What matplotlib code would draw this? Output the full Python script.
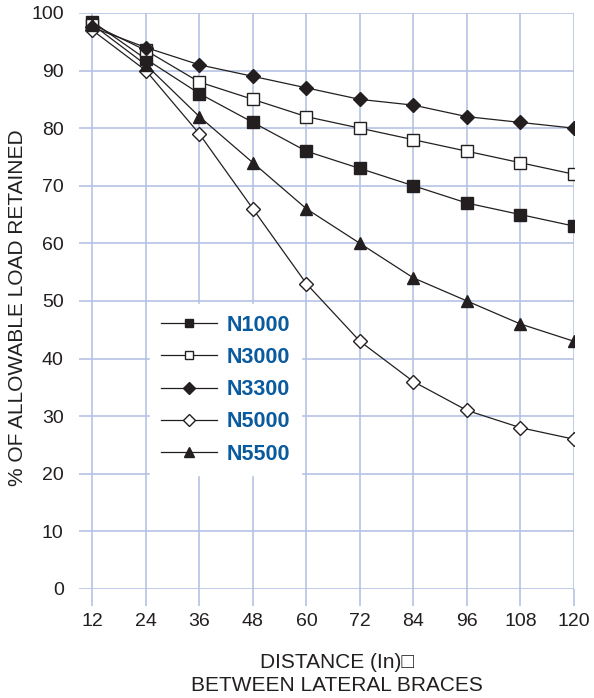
import numpy as np
import matplotlib
matplotlib.use("Agg")
import matplotlib.pyplot as plt

plt.rcParams["font.family"] = ["Liberation Sans Narrow", "Liberation Sans", "DejaVu Sans"]

distance = [12, 24, 36, 48, 60, 72, 84, 96, 108, 120]
n1000 = [98.5, 92, 86, 81, 76, 73, 70, 67, 65, 63]
n3000 = [98, 93.5, 88, 85, 82, 80, 78, 76, 74, 72]
n3300 = [97.5, 94, 91, 89, 87, 85, 84, 82, 81, 80]
n5000 = [97, 90, 79, 66, 53, 43, 36, 31, 28, 26]
n5500 = [98, 91, 82, 74, 66, 60, 54, 50, 46, 43]
y_ticks = [0, 10, 20, 30, 40, 50, 60, 70, 80, 90, 100]

GRID = "#b4c2e4"
INK = "#231f20"
BLUE = "#0a5a9e"

series = [
    ("N1000", n1000, "s", INK, 8),
    ("N3000", n3000, "s", "white", 8),
    ("N3300", n3300, "D", INK, 7.5),
    ("N5000", n5000, "D", "white", 7.5),
    ("N5500", n5500, "^", INK, 9),
]

fig = plt.figure(figsize=(5.94, 6.98), dpi=100)
ax = fig.add_axes([0.1330, 0.1562, 0.8333, 0.8252])

for label, vals, mk, fc, ms in series:
    ax.plot(distance, vals, color=INK, lw=0.9, marker=mk, ms=ms,
            mfc=fc, mec=INK, mew=1.0, label=label, zorder=3)

ax.set_xlim(9.0, 120)
ax.set_ylim(0, 100)
ax.set_xticks(distance)
ax.set_yticks(y_ticks)
ax.grid(True, color=GRID, lw=1.2)
for s in ax.spines.values():
    s.set_visible(False)
ax.tick_params(axis="x", colors=GRID, length=12, width=1.2, pad=5,
               labelcolor=INK, labelsize=14)
ax.tick_params(axis="y", length=0, pad=11, labelcolor=INK, labelsize=14)

fig.text(18 / 594, 1 - 308 / 698, "% OF ALLOWABLE LOAD RETAINED", rotation=90,
         fontsize=15, color=INK, ha="center", va="center")
fig.text(0.567, 0.0345, "DISTANCE (In)\u25a1\nBETWEEN LATERAL BRACES",
         fontsize=15, color=INK, ha="center", va="center",
         multialignment="center", linespacing=1.25)

leg = ax.legend(loc="upper left", bbox_to_anchor=(0.2525, 0.5645),
                bbox_transform=fig.transFigure, borderaxespad=0,
                frameon=True, fancybox=False, edgecolor="white", framealpha=1.0,
                handlelength=2.6, handletextpad=0.45, labelspacing=0.52,
                borderpad=0.5, markerscale=0.8,
                prop={"weight": "bold", "size": 15.5})
for t in leg.get_texts():
    t.set_color(BLUE)
leg.set_zorder(5)

fig.savefig("out.png", dpi=100)
